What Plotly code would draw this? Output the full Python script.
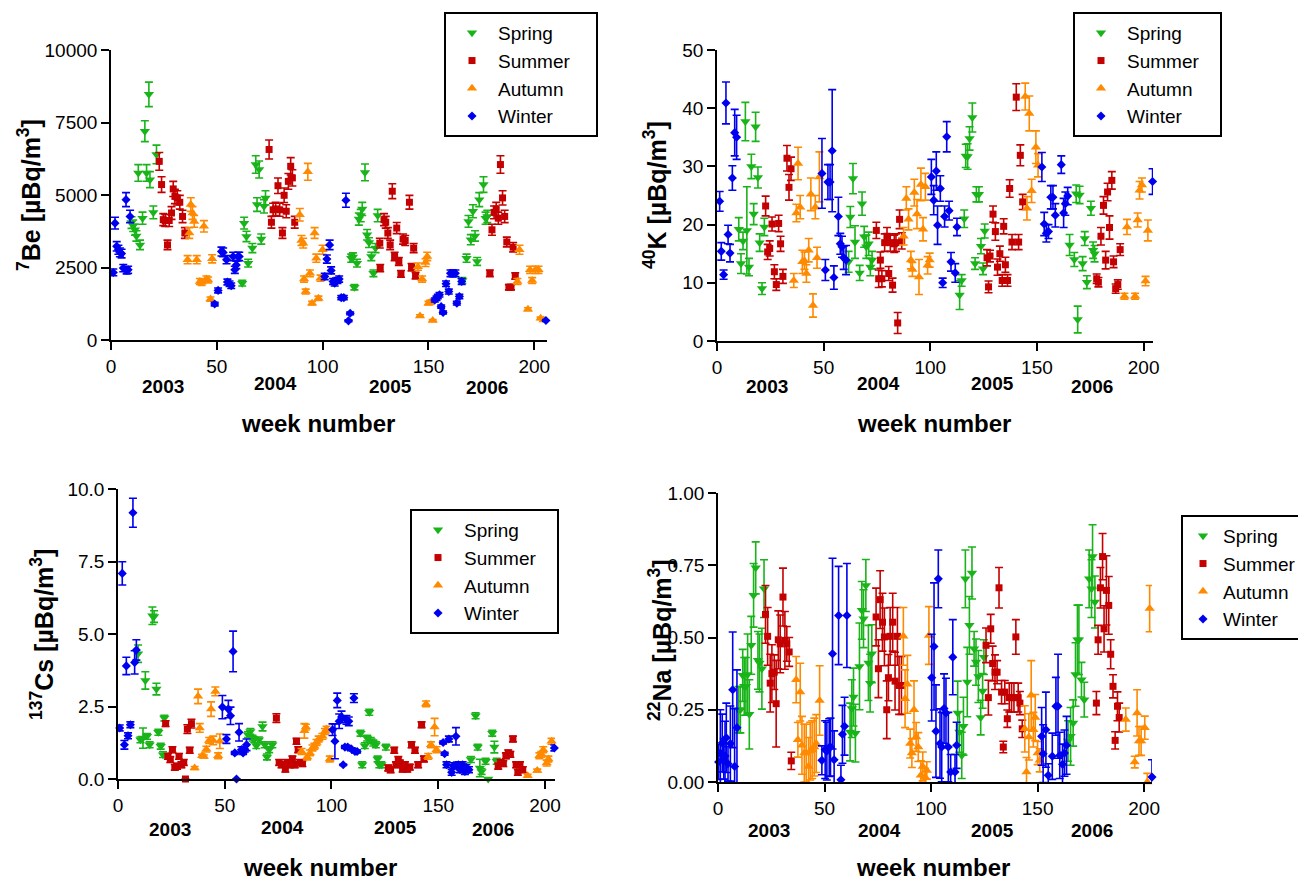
import plotly.graph_objects as go

SEASONS = ["Spring", "Summer", "Autumn", "Winter"]

# ---------------- 7Be (week, value) ----------------
be7_spring = [(9.7,4050),(10.5,3940),(11.3,3800),(12.0,3590),(12.9,5760),(13.7,3280),(14.9,4200),(16.0,7200),(16.8,5760),(17.9,8470),(18.4,5530),(20.0,4400),(21.5,6400),
              (62.0,1960),(62.9,4030),(64.0,3570),(64.8,2650),(66.8,3170),(68.4,6050),(69.0,4670),(70.0,5880),(71.0,3480),(72.3,4610),(73.0,4900),
              (113.5,2820),(114.3,2860),(115.0,1820),(116.2,2650),(117.1,4170),(118.0,4290),(118.7,4520),(120.0,5780),(121.0,3630),(121.9,3360),(123.0,2880),(124.0,2300),(125.0,3170),(126.0,4290),
              (166.0,2050),(168.0,2820),(168.9,4090),(170.0,3460),(171.0,4440),(172.0,3590),(173.0,2710),(174.0,4840),(176.0,5360),(177.0,4200),(177.8,4260)]
be7_summer = [(22.8,6160),(23.9,5360),(24.7,4150),(25.6,4120),(26.7,3280),(27.5,4120),(28.6,4380),(29.4,5210),(30.2,4950),(31.3,4900),(32.5,4750),(33.8,4260),(34.9,3690),
              (74.7,6570),(75.8,4060),(76.6,4490),(77.8,4520),(78.9,5320),(79.7,4490),(81.0,3690),(81.8,4990),(82.8,4440),(83.8,5470),(84.9,5990),(85.7,5590),(86.8,4060),
              (127.0,3340),(127.2,2480),(129.0,4150),(129.8,4060),(130.8,3690),(131.9,3280),(132.9,5130),(134.0,2880),(135.0,3860),(136.0,2710),(137.0,2280),(138.0,3480),(139.0,3430),(141.0,4750),(142.0,2510),(143.0,3170),(143.9,2220),
              (179.0,2300),(180.0,3800),(181.0,4400),(182.0,4520),(183.0,4200),(184.0,6050),(185.0,4900),(186.0,4260),(187.0,3380),(188.0,1820),(189.0,1820),(190.0,3200),(191.0,2210)]
be7_autumn = [(36.2,2770),(37.0,3690),(37.7,4670),(38.5,4380),(39.3,4090),(40.5,2770),(42.0,2020),(42.8,1980),(43.9,3920),(45.1,2100),(45.9,2070),(47.0,1410),(47.8,2800),
              (89.2,4320),(90.0,3430),(90.8,3340),(91.2,2100),(92.0,1670),(93.0,5800),(94.0,2300),(95.0,1270),(96.2,3690),(97.0,2820),(98.0,1440),(99.0,2130),(100.0,3110),
              (145.0,2530),(146.0,830),(147.0,2100),(148.6,2670),(149.4,2880),(150.0,1270),(150.8,1300),(152.0,670),
              (192.0,2020),(193.0,3110),(197.0,1060),(198.0,2420),(199.0,2050),(200.5,2420),(202.0,2420),(203.0,750),(204.4,690)]
be7_winter = [(1.1,2330),(1.9,4030),(2.7,3230),(3.5,3110),(4.2,3020),(5.0,2980),(5.8,2480),(7.1,4840),(7.4,2400),(8.1,2420),(9.0,4260),
              (49.0,1240),(50.6,1710),(52.2,3050),(53.0,3020),(54.6,2770),(55.0,2000),(56.0,1940),(56.8,1870),(57.7,2880),(58.5,2420),(59.2,2590),(60.0,2880),(60.6,2880),
              (101.0,2190),(102.0,2790),(103.3,3280),(104.0,2400),(104.9,2020),(105.7,1960),(107.0,2050),(107.8,2100),(108.8,1460),(110.0,1460),(111.0,4820),(112.2,660),(113.0,920),
              (153.0,1380),(153.8,1440),(154.4,1500),(155.2,1560),(156.0,1150),(156.9,950),(158.3,1940),(159.6,1670),(160.4,2300),(161.5,2300),(162.7,2300),(163.4,1270),(164.6,1500),(165.7,2020),
              (205.5,670)]
be7_err_percent = 5

# ---------------- 40K (week, value, error) ----------------
k40_spring = [(10.2,19.2,2.0),(11.25,13.3,1.7),(12.2,17.2,1.5),(13.3,37.7,3.3),(14.0,19.0,7.5),(15.0,12.7,1.5),(16.1,30.0,2.1),(17.2,21.8,1.8),(18.1,36.8,2.5),(19.2,28.1,1.8),(20.0,16.9,1.5),(21.1,9.0,1.0),(22.2,19.6,1.5),
              (61.7,13.6,1.8),(62.5,21.3,1.8),(63.75,27.9,2.6),(64.7,17.0,2.8),(66.9,11.7,1.3),(68.0,23.6,2.0),(69.0,17.9,1.8),(70.0,16.2,2.0),(71.1,16.7,2.0),(71.9,12.7,1.5),(72.7,13.9,1.5),
              (113.75,7.9,2.5),(114.7,10.4,1.0),(115.9,21.0,1.5),(116.6,31.8,2.0),(117.5,31.7,2.2),(118.4,34.8,2.0),(119.7,38.4,2.5),(121.6,25.2,1.3),(122.8,25.2,1.3),(121.0,13.3,1.0),(123.75,16.3,1.3),(124.7,12.4,1.0),(125.5,18.9,1.2),
              (165.3,16.5,1.8),(167.5,14.0,1.2),(168.4,25.3,1.5),(169.1,3.7,2.3),(170.0,25.1,1.5),(171.4,13.3,1.2),(172.4,17.6,1.2),(173.4,10.1,1.1),(175.3,22.8,1.2),(176.3,15.6,1.4),(177.0,15.0,1.4)]
k40_summer = [(22.8,23.2,1.7),(23.75,15.3,1.3),(24.7,15.9,1.3),(25.8,20.1,1.2),(26.9,11.9,1.2),(27.8,9.7,1.0),(28.9,20.2,1.4),(29.8,16.7,1.3),(30.9,11.1,1.2),(32.8,31.4,2.2),(33.75,26.4,2.2),(34.7,29.6,2.0),
              (74.7,19.0,1.4),(75.8,10.7,1.5),(76.6,13.9,1.4),(77.3,10.7,1.4),(78.6,16.9,1.5),(79.7,18.0,1.5),(80.5,11.6,1.2),(81.25,16.9,1.5),(82.3,9.6,1.2),(83.1,16.7,1.5),(83.9,16.9,1.5),(84.7,3.1,1.8),(85.6,20.9,1.6),(86.6,17.2,1.4),
              (126.6,14.3,1.4),(127.3,9.3,1.0),(128.0,14.6,1.0),(129.4,21.8,1.4),(130.5,18.8,1.5),(131.5,12.7,1.4),(132.6,15.0,1.3),(133.7,10.4,1.0),(134.4,19.7,1.3),(135.2,13.1,1.3),(136.2,10.4,1.0),(137.2,26.2,1.5),(138.3,17.0,1.3),(140.3,41.9,2.3),(141.4,17.0,1.3),(142.2,31.9,1.8),(143.3,23.9,1.3),
              (178.0,10.7,0.8),(178.8,10.1,0.8),(180.0,18.0,1.5),(181.2,23.3,1.5),(182.2,13.9,1.5),(183.1,25.6,1.5),(184.0,19.5,2.0),(185.1,27.6,1.5),(185.9,13.6,1.0),(186.9,9.0,0.8),(187.9,9.7,0.8),(189.0,15.7,1.0)]
k40_autumn = [(36.0,10.4,1.2),(37.2,22.0,1.5),(38.0,30.5,2.8),(39.0,23.0,2.0),(40.0,13.6,2.0),(41.0,13.8,1.5),(41.9,11.6,1.5),(43.0,15.6,2.0),(44.0,25.2,2.8),(45.0,6.1,2.0),(46.1,23.0,2.0),(46.9,14.3,1.8),(48.0,28.2,4.3),
              (87.5,18.0,1.5),(88.75,24.5,2.0),(89.8,20.9,1.8),(90.9,13.9,1.5),(91.6,12.3,1.2),(92.5,25.5,2.3),(93.75,21.8,2.5),(94.7,11.0,3.0),(95.6,26.9,2.8),(96.6,19.2,2.0),(97.7,26.5,2.3),(98.75,13.0,1.5),(99.7,13.9,1.2),
              (144.5,42.0,2.3),(145.3,22.8,2.0),(146.4,39.1,3.0),(147.5,25.8,2.0),(149.5,33.3,2.8),(150.5,30.2,2.0),
              (191.0,7.7,0.5),(192.2,19.6,1.3),(196.0,7.7,0.5),(197.2,20.8,1.2),(198.1,25.9,1.5),(199.2,26.8,1.2),(200.9,10.3,0.8),(202.0,19.0,1.8)]
k40_winter = [(1.25,24.0,1.7),(2.0,15.4,1.5),(3.1,11.4,0.8),(4.2,40.9,3.6),(5.2,18.3,1.6),(6.1,15.1,1.5),(7.2,28.0,2.1),(8.3,35.8,4.0),(9.2,35.0,3.8),
              (49.2,28.8,6.0),(50.8,12.2,1.8),(52.0,27.3,3.0),(53.0,27.3,3.0),(54.0,32.7,10.5),(54.8,10.9,2.0),(56.9,21.4,3.3),(57.8,16.7,1.8),(58.6,16.2,1.8),(59.4,14.3,2.0),(60.5,13.9,2.5),
              (100.5,28.2,3.0),(101.6,24.2,2.5),(102.8,29.2,3.3),(103.4,19.9,3.3),(104.7,26.2,2.2),(105.8,10.0,0.8),(106.7,21.4,1.8),(107.7,35.1,2.6),(108.8,22.4,1.6),(109.7,13.6,1.6),(111.7,11.7,1.6),(112.5,19.6,1.5),
              (152.3,29.9,2.5),(153.4,20.1,2.0),(154.4,18.5,1.5),(155.4,18.8,1.2),(156.5,24.7,2.0),(157.5,24.7,2.0),(158.6,21.6,2.0),(161.4,30.3,1.5),(162.5,22.0,2.5),(163.3,23.6,2.0),(164.4,24.9,1.5),
              (204.2,27.4,2.2)]

# ---------------- 137Cs (week, value, error) ----------------
cs137_spring = [(9.4,4.32,0.3),(10.5,1.35,0.1),(11.7,1.41,0.35),(12.8,3.40,0.3),(13.6,1.47,0.1),(14.8,1.18,0.1),(16.1,5.63,0.3),(16.9,5.60,0.2),(18.0,3.10,0.2),(18.9,1.61,0.1),(20.0,1.13,0.1),(21.1,0.84,0.1),(21.7,2.10,0.1),
                (60.9,1.53,0.1),(62.0,1.64,0.1),(63.0,1.41,0.1),(63.8,1.35,0.1),(64.8,1.15,0.1),(66.0,1.35,0.1),(67.7,1.81,0.15),(68.75,1.18,0.1),(69.8,0.76,0.1),(70.8,1.01,0.1),(72.3,1.18,0.1),
                (113.6,1.58,0.1),(114.4,0.49,0.1),(115.6,1.15,0.1),(116.7,1.41,0.1),(117.7,2.30,0.1),(118.4,1.33,0.1),(119.6,1.24,0.1),(120.8,1.18,0.1),(121.6,0.69,0.1),(122.4,0.49,0.1),(123.4,0.49,0.1),(125.5,1.10,0.1),
                (165.3,0.67,0.1),(167.5,2.18,0.1),(168.5,1.10,0.1),(169.5,0.38,0.3),(170.3,0.26,0.1),(172.2,0.61,0.1),(173.4,0.0,0.0),(175.3,1.58,0.1),(176.3,1.10,0.2),(177.4,0.61,0.1)]
cs137_summer = [(22.3,1.91,0.1),(23.4,0.78,0.1),(24.5,0.67,0.1),(25.5,1.01,0.1),(26.6,0.40,0.1),(27.7,0.44,0.1),(28.6,0.78,0.1),(29.7,0.49,0.1),(30.8,0.57,0.1),(31.6,0.0,0.0),(32.5,1.72,0.15),(33.6,0.99,0.1),(34.4,1.91,0.15),
                (74.2,2.10,0.15),(75.5,0.57,0.1),(76.6,0.49,0.1),(78.4,0.34,0.1),(79.2,0.57,0.1),(80.5,0.49,0.1),(81.7,0.69,0.1),(82.8,0.49,0.1),(83.6,1.30,0.1),(84.4,1.01,0.1),(85.2,0.57,0.1),(86.4,0.53,0.1),
                (126.6,0.38,0.1),(127.7,0.32,0.1),(129.4,0.99,0.1),(130.2,0.49,0.1),(131.3,0.67,0.1),(132.0,0.55,0.1),(133.3,0.34,0.1),(134.4,0.49,0.1),(135.5,0.34,0.1),(136.7,0.41,0.1),(137.5,1.18,0.1),(139.1,0.99,0.1),(140.6,0.49,0.1),(142.2,1.87,0.1),(143.3,0.69,0.1),
                (178.1,0.44,0.1),(179.2,0.57,0.1),(180.5,0.53,0.1),(181.7,0.80,0.1),(182.8,0.90,0.1),(183.8,0.85,0.1),(185.0,1.38,0.1),(186.5,0.49,0.1),(187.3,0.23,0.1),(188.3,0.49,0.1),(189.6,0.32,0.1)]
cs137_autumn = [(35.9,0.38,0.05),(37.5,2.85,0.25),(38.3,1.76,0.15),(39.4,0.80,0.05),(40.2,0.78,0.05),(41.4,1.03,0.1),(42.7,1.33,0.1),(43.6,2.41,0.25),(44.6,1.33,0.15),(45.6,3.02,0.15),(46.9,0.80,0.1),(47.7,1.30,0.25),
                (86.0,0.95,0.1),(87.3,1.66,0.25),(88.0,1.79,0.1),(88.6,0.76,0.1),(89.9,0.90,0.1),(91.1,1.07,0.1),(92.0,1.13,0.1),(93.0,1.26,0.1),(94.0,1.38,0.1),(95.8,1.47,0.1),(96.9,1.64,0.1),(97.7,1.72,0.1),(99.2,0.69,0.1),
                (144.3,2.59,0.1),(145.3,0.78,0.1),(146.6,1.18,0.1),(148.3,1.79,0.3),(149.2,1.01,0.1),
                (191.9,0.11,0.05),(196.4,0.29,0.05),(197.4,0.80,0.1),(198.3,0.85,0.1),(199.2,1.01,0.1),(200.8,0.55,0.1),(201.6,0.69,0.1),(203.1,1.30,0.1)]
cs137_winter = [(0.8,1.76,0.1),(2.0,7.09,0.4),(3.0,1.18,0.15),(3.9,3.90,0.3),(4.7,1.49,0.1),(5.8,1.87,0.1),(7.0,9.18,0.5),(7.8,4.02,0.4),(8.6,4.45,0.35),
                (48.9,2.48,0.4),(50.8,1.38,0.15),(51.7,2.41,0.3),(52.7,2.18,0.3),(53.9,4.40,0.7),(54.7,0.90,0.05),(55.5,0.0,0.0),(56.7,1.61,0.3),(57.8,1.01,0.1),(58.6,0.90,0.05),(59.4,1.03,0.1),(60.2,1.18,0.2),
                (100.5,1.70,0.2),(101.6,1.30,0.6),(102.7,2.71,0.25),(103.6,1.99,0.25),(104.7,2.14,0.2),(105.5,0.49,0.02),(106.3,1.10,0.05),(107.0,2.04,0.15),(107.6,1.10,0.05),(108.1,1.99,0.15),(109.4,1.03,0.05),(110.5,2.79,0.15),(111.0,0.95,0.05),(112.0,0.95,0.05),
                (152.3,1.26,0.05),(153.0,0.87,0.05),(153.9,0.49,0.1),(155.0,1.38,0.1),(156.3,0.23,0.1),(157.1,0.46,0.1),(158.3,1.47,0.3),(159.4,0.49,0.1),(160.2,0.32,0.1),(161.4,0.49,0.1),(162.5,0.26,0.1),(163.2,0.40,0.1),(164.4,0.32,0.1),
                (204.4,1.07,0.1)]

# ---------------- 22Na (week, value, error) ----------------
na22_spring = [(9.7,0.25,0.08),(10.5,0.25,0.08),(11.6,0.369,0.09),(12.3,0.331,0.1),(13.1,0.331,0.1),(13.9,0.372,0.14),(14.7,0.234,0.12),(15.6,0.473,0.1),(16.7,0.646,0.11),(17.7,0.741,0.09),(18.75,0.421,0.1),(19.5,0.412,0.1),(20.6,0.392,0.14),(21.6,0.669,0.1),
               (62.0,0.173,0.1),(62.8,0.254,0.1),(63.6,0.294,0.1),(64.5,0.169,0.1),(66.4,0.40,0.15),(67.5,0.594,0.1),(68.3,0.565,0.1),(69.4,0.68,0.09),(70.6,0.412,0.13),(71.4,0.342,0.1),(72.2,0.444,0.1),
               (112.5,0.239,0.11),(113.3,0.173,0.07),(114.4,0.092,0.08),(115.2,0.193,0.1),(116.1,0.703,0.1),(117.0,0.346,0.12),(118.0,0.542,0.1),(119.2,0.723,0.09),(120.2,0.461,0.06),(121.1,0.415,0.08),(122.2,0.365,0.09),(123.3,0.223,0.06),(124.2,0.315,0.06),(124.8,0.432,0.06),
               (164.3,0.142,0.07),(165.5,0.158,0.1),(166.7,0.204,0.08),(167.8,0.372,0.11),(168.7,0.492,0.12),(169.4,0.492,0.12),(170.6,0.354,0.06),(171.9,0.285,0.06),(174.2,0.703,0.1),(175.3,0.669,0.1),(175.8,0.78,0.11),(176.9,0.623,0.09)]
na22_summer = [(22.3,0.58,0.1),(23.3,0.504,0.1),(24.5,0.342,0.1),(25.3,0.375,0.1),(26.4,0.38,0.06),(27.3,0.271,0.15),(28.3,0.492,0.1),(29.2,0.478,0.1),(30.5,0.64,0.1),(31.4,0.49,0.1),(32.3,0.478,0.06),(33.4,0.45,0.05),(34.4,0.073,0.03),
               (74.2,0.571,0.1),(75.3,0.392,0.1),(76.1,0.631,0.1),(77.2,0.553,0.1),(78.1,0.502,0.1),(79.2,0.25,0.1),(80.0,0.361,0.08),(80.8,0.504,0.1),(82.0,0.553,0.1),(83.1,0.349,0.1),(84.2,0.504,0.1),(85.0,0.334,0.1),(86.1,0.334,0.1),
               (125.8,0.473,0.06),(126.9,0.292,0.06),(128.0,0.53,0.05),(128.9,0.41,0.06),(130.0,0.38,0.06),(131.0,0.38,0.04),(131.9,0.672,0.07),(133.1,0.311,0.04),(133.9,0.121,0.02),(134.6,0.311,0.04),(135.8,0.219,0.03),(136.7,0.292,0.05),(137.8,0.292,0.05),(138.9,0.292,0.05),(139.8,0.502,0.06),(140.9,0.292,0.05),(141.7,0.273,0.04),(142.8,0.184,0.03),
               (177.6,0.273,0.04),(178.4,0.492,0.05),(179.5,0.672,0.07),(180.5,0.78,0.08),(181.2,0.53,0.08),(182.3,0.663,0.12),(183.4,0.611,0.1),(184.3,0.442,0.05),(185.4,0.331,0.04),(186.4,0.144,0.03),(187.5,0.262,0.05),(188.3,0.223,0.05)]
na22_autumn = [(36.7,0.354,0.08),(37.5,0.146,0.06),(38.6,0.311,0.1),(39.4,0.127,0.1),(40.5,0.10,0.1),(41.4,0.10,0.1),(42.5,0.054,0.1),(43.3,0.107,0.1),(44.2,0.112,0.1),(45.2,0.121,0.1),(46.1,0.133,0.1),(47.7,0.282,0.12),
               (87.0,0.504,0.1),(87.8,0.288,0.1),(88.9,0.338,0.1),(90.2,0.133,0.05),(91.0,0.10,0.05),(92.0,0.25,0.1),(93.0,0.156,0.05),(94.0,0.121,0.05),(95.2,0.023,0.05),(96.1,0.054,0.05),(97.2,0.017,0.03),(98.0,0.04,0.03),(99.0,0.507,0.1),
               (144.0,0.184,0.08),(144.8,0.035,0.05),(145.9,0.156,0.08),(147.0,0.30,0.12),(148.0,0.181,0.06),(148.9,0.223,0.08),(150.0,0.10,0.04),(151.0,0.075,0.04),
               (191.4,0.216,0.04),(195.6,0.069,0.02),(196.7,0.239,0.08),(197.6,0.142,0.05),(198.6,0.142,0.05),(200.3,0.188,0.04),(201.5,0.0,0.03),(202.6,0.60,0.08)]
na22_winter = [(0.3,0.069,0.06),(1.1,0.10,0.15),(2.0,0.135,0.1),(2.7,0.08,0.07),(3.3,0.09,0.12),(3.9,0.153,0.12),(4.7,0.063,0.06),(5.8,0.133,0.13),(6.9,0.319,0.2),(7.8,0.054,0.2),(8.9,0.188,0.2),
               (48.75,0.075,0.05),(50.3,0.112,0.1),(51.1,0.107,0.1),(52.2,0.119,0.1),(52.8,0.121,0.1),(53.75,0.444,0.33),(54.5,0.077,0.1),(56.6,0.576,0.17),(57.7,0.008,0.05),(58.4,0.165,0.1),(59.4,0.193,0.1),(60.5,0.576,0.18),
               (100.3,0.361,0.15),(101.4,0.469,0.22),(102.3,0.176,0.16),(103.4,0.703,0.1),(104.2,0.133,0.12),(105.0,0.121,0.12),(106.1,0.254,0.12),(107.0,0.239,0.12),(108.1,0.121,0.12),(109.2,0.035,0.06),(110.2,0.432,0.13),(111.25,0.035,0.06),(112.0,0.127,0.08),
               (151.9,0.158,0.1),(152.6,0.098,0.1),(153.9,0.181,0.13),(155.0,0.023,0.04),(156.9,0.089,0.08),(158.6,0.262,0.1),(159.6,0.262,0.18),(160.4,0.092,0.08),(161.7,0.061,0.07),(162.6,0.10,0.08),(163.6,0.127,0.1),
               (203.7,0.017,0.06)]

year_labels = ["2003", "2004", "2005", "2006"]
x_ticks = [0, 50, 100, 150, 200]

# ---------------- style ----------------
OFF = 8                      # page body margin in the browser
W, H = 1306 - OFF, 882 - OFF
COLORS = {"Spring": "#19b419", "Summer": "#c40000", "Autumn": "#ff8a00", "Winter": "#0000f0"}
SYMBOLS = {"Spring": "triangle-down", "Summer": "square", "Autumn": "triangle-up", "Winter": "diamond"}
SIZES = {"Spring": 9, "Summer": 7, "Autumn": 9, "Winter": 7}
FONT = "Liberation Sans, Arial, Helvetica, sans-serif"

def px_x(p):
    return (p - OFF) / W

def px_y(p):
    return 1 - (p - OFF) / H

panels = [
    dict(series=[be7_spring, be7_summer, be7_autumn, be7_winter], yrange=[0, 10000], yticks=[0, 2500, 5000, 7500, 10000],
         ytext=["0", "2500", "5000", "7500", "10000"], xr=[0, 206],
         dom_x=[111, 547], dom_y=[50, 340], legend=(444, 12), lpad=4, litem=42,
         ytitle="<b><sup>7</sup>Be [µBq/m<sup>3</sup>]</b>", ytitle_pos=(29, 195),
         years_px=[163, 275, 390, 487], years_y=[386, 384, 386, 388], wn=(318, 423)),
    dict(series=[k40_spring, k40_summer, k40_autumn, k40_winter], yrange=[0, 50], yticks=[0, 10, 20, 30, 40, 50],
         ytext=["0", "10", "20", "30", "40", "50"], xr=[0, 204.4],
         dom_x=[717, 1153], dom_y=[50, 341], legend=(1073, 12), lpad=3, litem=42,
         ytitle="<b><sup>40</sup>K [µBq/m<sup>3</sup>]</b>", ytitle_pos=(655, 195),
         years_px=[767, 878, 992, 1092], years_y=[386, 384, 384, 386], wn=(934, 423)),
    dict(series=[cs137_spring, cs137_summer, cs137_autumn, cs137_winter], yrange=[0, 10], yticks=[0, 2.5, 5, 7.5, 10],
         ytext=["0.0", "2.5", "5.0", "7.5", "10.0"], xr=[0, 204.7],
         dom_x=[118, 555], dom_y=[489, 779], legend=(410, 509), lpad=3, litem=42,
         ytitle="<b><sup>137</sup>Cs [µBq/m<sup>3</sup>]</b>", ytitle_pos=(42, 635),
         years_px=[170, 282, 395, 493], years_y=[829, 827, 827, 829], wn=(320, 867)),
    dict(series=[na22_spring, na22_summer, na22_autumn, na22_winter], yrange=[0, 1], yticks=[0, 0.25, 0.5, 0.75, 1.0],
         ytext=["0.00", "0.25", "0.50", "0.75", "1.00"], xr=[0, 203.7],
         dom_x=[718, 1152], dom_y=[493, 782], legend=(1181, 515), lpad=0, litem=30,
         ytitle="<b><sup>22</sup>Na [µBq/m<sup>3</sup>]</b>", ytitle_pos=(660, 640),
         years_px=[769, 879, 992, 1092], years_y=[830, 830, 830, 830], wn=(933, 867)),
]

fig = go.Figure()
layout = dict(width=W, height=H, paper_bgcolor="white", plot_bgcolor="white",
              margin=dict(l=0, r=0, t=0, b=0, autoexpand=False),
              font=dict(family=FONT, color="black", size=19), showlegend=True)
annotations = []

for i, p in enumerate(panels):
    n = i + 1
    xa = "x" if n == 1 else f"x{n}"
    ya = "y" if n == 1 else f"y{n}"
    lg = "legend" if n == 1 else f"legend{n}"
    pad = "\u00a0" * p["lpad"]
    for season, data in zip(SEASONS, p["series"]):
        xs = [d[0] for d in data]
        ys = [d[1] for d in data]
        if n == 1:
            err = dict(type="percent", value=be7_err_percent, color=COLORS[season], thickness=1.6, width=4)
        else:
            err = dict(type="data", array=[d[2] for d in data], color=COLORS[season], thickness=1.6, width=4)
        fig.add_trace(go.Scatter(x=xs, y=ys, mode="markers", name=season + pad, xaxis=xa, yaxis=ya, legend=lg,
                                 marker=dict(symbol=SYMBOLS[season], size=SIZES[season], color=COLORS[season]),
                                 error_y=err, cliponaxis=False))
    axis_common = dict(showgrid=False, zeroline=False, showline=True, linecolor="black", linewidth=1.6,
                       ticks="outside", ticklen=8, tickwidth=1.6, tickcolor="black",
                       tickfont=dict(family=FONT, size=19, color="black"))
    layout["xaxis" if n == 1 else f"xaxis{n}"] = dict(
        domain=[px_x(p["dom_x"][0]), px_x(p["dom_x"][1])], range=p["xr"], anchor=ya,
        tickmode="array", tickvals=x_ticks, ticktext=[str(t) for t in x_ticks], **axis_common)
    layout["yaxis" if n == 1 else f"yaxis{n}"] = dict(
        domain=[px_y(p["dom_y"][1]), px_y(p["dom_y"][0])], range=p["yrange"], anchor=xa,
        tickmode="array", tickvals=p["yticks"], ticktext=p["ytext"], **axis_common)
    layout[lg] = dict(x=px_x(p["legend"][0]), y=px_y(p["legend"][1]), xanchor="left", yanchor="top",
                      bgcolor="white", bordercolor="black", borderwidth=2, itemwidth=p["litem"],
                      font=dict(family=FONT, size=19, color="black"), tracegroupgap=0, itemsizing="trace")
    annotations.append(dict(text=p["ytitle"], x=px_x(p["ytitle_pos"][0]), y=px_y(p["ytitle_pos"][1]),
                            xref="paper", yref="paper", showarrow=False, textangle=-90,
                            xanchor="center", yanchor="middle", font=dict(family=FONT, size=25, color="black")))
    for lab, xp, yp in zip(year_labels, p["years_px"], p["years_y"]):
        annotations.append(dict(text=f"<b>{lab}</b>", x=px_x(xp), y=px_y(yp), xref="paper", yref="paper",
                                showarrow=False, xanchor="center", yanchor="middle",
                                font=dict(family=FONT, size=19, color="black")))
    annotations.append(dict(text="<b>week number</b>", x=px_x(p["wn"][0]), y=px_y(p["wn"][1]), xref="paper", yref="paper",
                            showarrow=False, xanchor="center", yanchor="middle",
                            font=dict(family=FONT, size=24, color="black")))

layout["annotations"] = annotations
fig.update_layout(**layout)
fig.write_html("out.html")
